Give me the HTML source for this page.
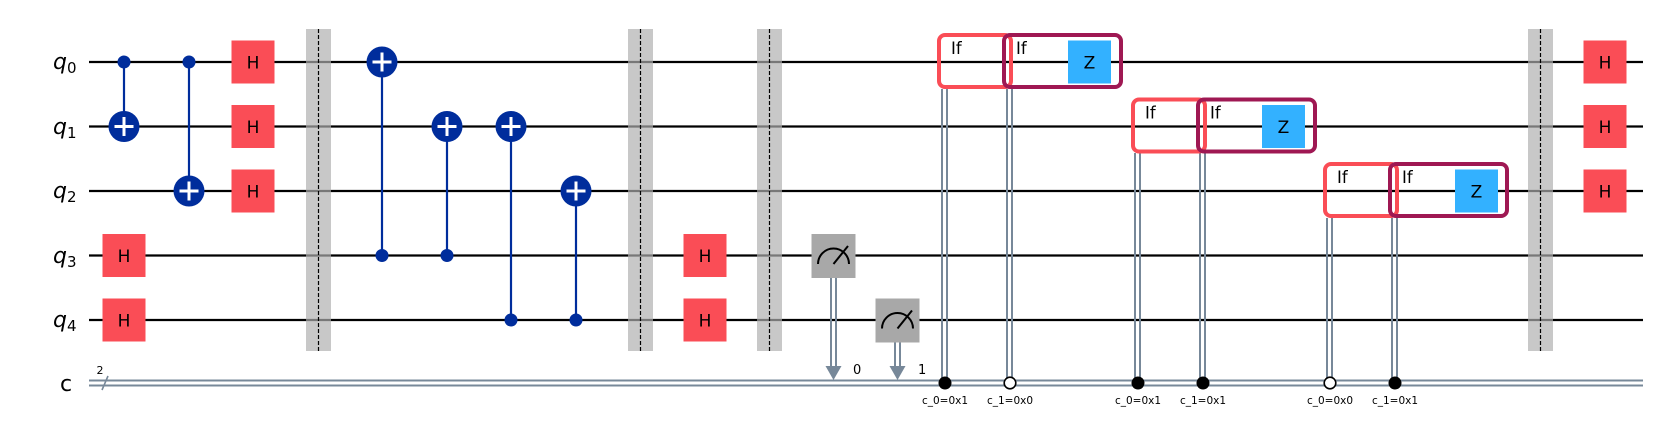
<!DOCTYPE html>
<html><head><meta charset="utf-8"><style>html,body{margin:0;padding:0;background:#fff}svg{display:block}</style></head>
<body>
<svg width="1657" height="432" viewBox="0 0 1657 432" xmlns="http://www.w3.org/2000/svg" font-family="'DejaVu Sans','Liberation Sans',sans-serif">
<rect width="1657" height="432" fill="#fff"/>
<!-- barriers -->
<g>
<rect x="306" y="29" width="25" height="322" fill="#c8c8c8"/>
<rect x="628" y="29" width="25" height="322" fill="#c8c8c8"/>
<rect x="757" y="29" width="25" height="322" fill="#c8c8c8"/>
<rect x="1528" y="29" width="25" height="322" fill="#c8c8c8"/>
</g>
<!-- quantum wires -->
<g stroke="#000" stroke-width="2.2">
<line x1="89" y1="62" x2="1643" y2="62"/>
<line x1="89" y1="126.5" x2="1643" y2="126.5"/>
<line x1="89" y1="191" x2="1643" y2="191"/>
<line x1="89" y1="255.5" x2="1643" y2="255.5"/>
<line x1="89" y1="320" x2="1643" y2="320"/>
</g>
<g fill="#c8c8c8" opacity="0.6">
<rect x="306" y="29" width="25" height="322"/>
<rect x="628" y="29" width="25" height="322"/>
<rect x="757" y="29" width="25" height="322"/>
<rect x="1528" y="29" width="25" height="322"/>
</g>
<g stroke="#000" stroke-width="1.2" stroke-dasharray="4,2">
<line x1="318.5" y1="29" x2="318.5" y2="351"/>
<line x1="640.5" y1="29" x2="640.5" y2="351"/>
<line x1="769.5" y1="29" x2="769.5" y2="351"/>
<line x1="1540.5" y1="29" x2="1540.5" y2="351"/>
</g>
<!-- classical wire -->
<g stroke="#778899" stroke-width="2">
<line x1="89" y1="380.5" x2="1643" y2="380.5"/>
<line x1="89" y1="385.5" x2="1643" y2="385.5"/>
</g>
<line x1="102" y1="390" x2="108" y2="376" stroke="#778899" stroke-width="1.6"/>
<text x="100" y="374" font-size="11" text-anchor="middle">2</text>
<!-- labels -->
<g font-size="22" font-style="italic">
<text x="53" y="69">q<tspan font-size="15" font-style="normal" dy="4">0</tspan></text>
<text x="53" y="134">q<tspan font-size="15" font-style="normal" dy="4">1</tspan></text>
<text x="53" y="198">q<tspan font-size="15" font-style="normal" dy="4">2</tspan></text>
<text x="53" y="263">q<tspan font-size="15" font-style="normal" dy="4">3</tspan></text>
<text x="53" y="327">q<tspan font-size="15" font-style="normal" dy="4">4</tspan></text>
</g>
<text x="60" y="391" font-size="22">c</text>

<!-- CNOTs -->
<g stroke="#002d9c" stroke-width="2.2">
<line x1="124" y1="62" x2="124" y2="126.5"/>
<line x1="189" y1="62" x2="189" y2="191"/>
<line x1="382" y1="62" x2="382" y2="255.5"/>
<line x1="447" y1="126.5" x2="447" y2="255.5"/>
<line x1="511" y1="126.5" x2="511" y2="320"/>
<line x1="576" y1="191" x2="576" y2="320"/>
</g>
<g fill="#002d9c">
<circle cx="124" cy="62" r="6.5"/><circle cx="189" cy="62" r="6.5"/>
<circle cx="382" cy="255.5" r="6.5"/><circle cx="447" cy="255.5" r="6.5"/>
<circle cx="511" cy="320" r="6.5"/><circle cx="576" cy="320" r="6.5"/>
<circle cx="124" cy="126.5" r="15.5"/><circle cx="189" cy="191" r="15.5"/>
<circle cx="382" cy="62" r="15.5"/><circle cx="447" cy="126.5" r="15.5"/>
<circle cx="511" cy="126.5" r="15.5"/><circle cx="576" cy="191" r="15.5"/>
</g>
<g stroke="#fff" stroke-width="3">
<path d="M124 117v19M114.5 126.5h19"/>
<path d="M189 181.5v19M179.5 191h19"/>
<path d="M382 52.5v19M372.5 62h19"/>
<path d="M447 117v19M437.5 126.5h19"/>
<path d="M511 117v19M501.5 126.5h19"/>
<path d="M576 181.5v19M566.5 191h19"/>
</g>

<!-- H gates -->
<g fill="#fa4d56">
<rect x="102.5" y="234" width="43" height="43"/>
<rect x="102.5" y="298.5" width="43" height="43"/>
<rect x="231.5" y="40.5" width="43" height="43"/>
<rect x="231.5" y="105" width="43" height="43"/>
<rect x="231.5" y="169.5" width="43" height="43"/>
<rect x="683.5" y="234" width="43" height="43"/>
<rect x="683.5" y="298.5" width="43" height="43"/>
<rect x="1583.5" y="40.5" width="43" height="43"/>
<rect x="1583.5" y="105" width="43" height="43"/>
<rect x="1583.5" y="169.5" width="43" height="43"/>
</g>
<g font-size="17" text-anchor="middle" fill="#000">
<text x="124" y="262">H</text><text x="124" y="326.5">H</text>
<text x="253" y="68.5">H</text><text x="253" y="133">H</text><text x="253" y="197.5">H</text>
<text x="705" y="262">H</text><text x="705" y="326.5">H</text>
<text x="1605" y="68.5">H</text><text x="1605" y="133">H</text><text x="1605" y="197.5">H</text>
</g>

<!-- measurements -->
<g stroke="#778899" stroke-width="2">
<line x1="831" y1="277" x2="831" y2="368"/><line x1="836" y1="277" x2="836" y2="368"/>
<line x1="895" y1="341" x2="895" y2="368"/><line x1="900" y1="341" x2="900" y2="368"/>
</g>
<g fill="#778899">
<polygon points="825.5,366 841.5,366 833.5,380"/>
<polygon points="889.5,366 905.5,366 897.5,380"/>
</g>
<text x="853" y="374" font-size="13">0</text>
<text x="918" y="374" font-size="13">1</text>
<rect x="811.5" y="234" width="44" height="44" fill="#a8a8a8"/>
<rect x="875.5" y="298.5" width="44" height="44" fill="#a8a8a8"/>
<g stroke="#000" stroke-width="2" fill="none">
<path d="M818 264 A15.5 15.5 0 0 1 849 264"/><path d="M833.5 264 L848 246"/>
<path d="M882 328.5 A15.5 15.5 0 0 1 913 328.5"/><path d="M897.5 328.5 L912 310.5"/>
</g>

<g>
<g stroke="#778899" stroke-width="2">
<line x1="942" y1="89" x2="942" y2="383"/><line x1="947" y1="89" x2="947" y2="383"/>
<line x1="1007" y1="89" x2="1007" y2="383"/><line x1="1012" y1="89" x2="1012" y2="383"/>
<line x1="1135" y1="153" x2="1135" y2="383"/><line x1="1140" y1="153" x2="1140" y2="383"/>
<line x1="1200" y1="153" x2="1200" y2="383"/><line x1="1205" y1="153" x2="1205" y2="383"/>
<line x1="1327" y1="218" x2="1327" y2="383"/><line x1="1332" y1="218" x2="1332" y2="383"/>
<line x1="1392" y1="218" x2="1392" y2="383"/><line x1="1397" y1="218" x2="1397" y2="383"/>
</g>
<rect x="939" y="35" width="72" height="52" rx="6" fill="none" stroke="#fa4d56" stroke-width="4"/>
<rect x="1004" y="35" width="117" height="52" rx="6" fill="none" stroke="#9f1853" stroke-width="4"/>
<rect x="1068" y="40.5" width="43" height="43" fill="#33b1ff"/>
<rect x="1133" y="99.5" width="72" height="52" rx="6" fill="none" stroke="#fa4d56" stroke-width="4"/>
<rect x="1198" y="99.5" width="117" height="52" rx="6" fill="none" stroke="#9f1853" stroke-width="4"/>
<rect x="1262" y="105" width="43" height="43" fill="#33b1ff"/>
<rect x="1325" y="164" width="72" height="52" rx="6" fill="none" stroke="#fa4d56" stroke-width="4"/>
<rect x="1390" y="164" width="117" height="52" rx="6" fill="none" stroke="#9f1853" stroke-width="4"/>
<rect x="1455" y="169.5" width="43" height="43" fill="#33b1ff"/>
<g font-size="16.5">
<text x="951" y="54">If</text><text x="1016" y="54">If</text>
<text x="1145" y="118.5">If</text><text x="1210" y="118.5">If</text>
<text x="1337" y="183">If</text><text x="1402" y="183">If</text>
</g>
<g font-size="17" text-anchor="middle">
<text x="1089.5" y="68.5">Z</text><text x="1283.5" y="133">Z</text><text x="1476.5" y="197.5">Z</text>
</g>
<circle cx="945" cy="383" r="6.5" fill="#000"/>
<circle cx="1010" cy="383" r="5.8" fill="#fff" stroke="#000" stroke-width="1.6"/>
<circle cx="1138" cy="383" r="6.5" fill="#000"/>
<circle cx="1203" cy="383" r="6.5" fill="#000"/>
<circle cx="1330" cy="383" r="5.8" fill="#fff" stroke="#000" stroke-width="1.6"/>
<circle cx="1395" cy="383" r="6.5" fill="#000"/>
<g font-size="10.5" text-anchor="middle">
<text x="945" y="404">c_0=0x1</text><text x="1010" y="404">c_1=0x0</text>
<text x="1138" y="404">c_0=0x1</text><text x="1203" y="404">c_1=0x1</text>
<text x="1330" y="404">c_0=0x0</text><text x="1395" y="404">c_1=0x1</text>
</g>
</g>
</svg>
</body></html>
